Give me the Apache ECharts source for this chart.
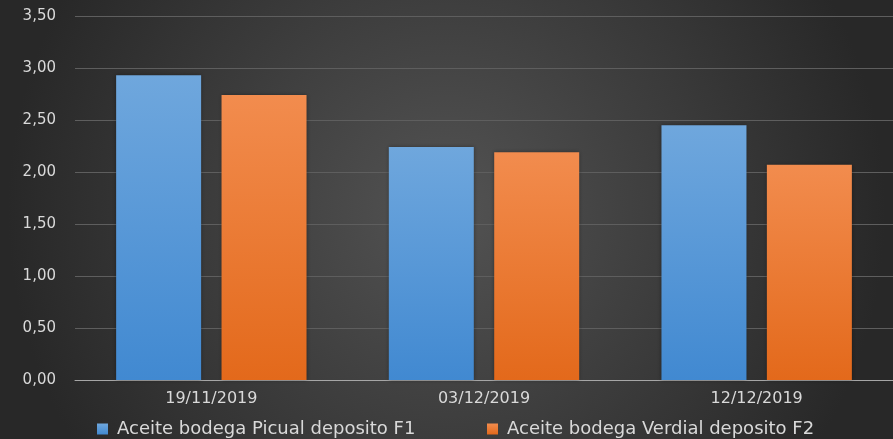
<!DOCTYPE html>
<html>
<head>
<meta charset="utf-8">
<script src="https://cdn.jsdelivr.net/npm/echarts@6/dist/echarts.min.js"></script>
<style>
  html, body { margin: 0; padding: 0; background: #2c2c2c; }
  #chart { width: 893px; height: 439px; }
</style>
</head>
<body>
<div id="chart"></div>
<script>
// Sampling dates
var categories = ['19/11/2019', '03/12/2019', '12/12/2019'];
// Series names and values
var seriesNames = ['Aceite bodega Picual deposito F1', 'Aceite bodega Verdial deposito F2'];
var picualF1 = [2.93, 2.24, 2.45];
var verdialF2 = [2.74, 2.19, 2.07];
// Value axis range
var yMin = 0, yMax = 3.5, yStep = 0.5;

var textColor = '#d9d9d9';
var fontFamily = '"DejaVu Sans", "Noto Sans", sans-serif';

function grad(top, bottom) {
  return new echarts.graphic.LinearGradient(0, 0, 0, 1, [
    { offset: 0, color: top },
    { offset: 1, color: bottom }
  ]);
}

function legendAt(name, left) {
  return {
    data: [name],
    top: 420,
    left: left,
    padding: 0,
    itemWidth: 11,
    itemHeight: 11,
    icon: 'rect',
    textStyle: { color: textColor, fontSize: 18, fontFamily: fontFamily, padding: [0, 0, 0, 4] }
  };
}

var chart = echarts.init(document.getElementById('chart'), null, { renderer: 'canvas' });
chart.setOption({
  backgroundColor: new echarts.graphic.RadialGradient(0.5, 0.48, 1.0, [
    { offset: 0, color: '#535353' },
    { offset: 1, color: '#282828' }
  ]),
  animation: false,
  textStyle: { fontFamily: fontFamily },
  grid: { left: 75, top: 16, width: 825, height: 364, containLabel: false },
  legend: [legendAt(seriesNames[0], 97), legendAt(seriesNames[1], 487)],
  xAxis: {
    type: 'category',
    data: categories,
    axisLine: { lineStyle: { color: '#a6a6a6', width: 1 } },
    axisTick: { show: false },
    axisLabel: { color: textColor, fontSize: 16, margin: 11, fontFamily: fontFamily }
  },
  yAxis: {
    type: 'value',
    min: yMin,
    max: yMax,
    interval: yStep,
    axisLine: { show: false },
    axisTick: { show: false },
    splitLine: { lineStyle: { color: '#5e5e5e', width: 1 } },
    axisLabel: {
      color: textColor,
      fontSize: 15,
      margin: 19,
      fontFamily: fontFamily,
      formatter: function (v) { return v.toFixed(2).replace('.', ','); }
    }
  },
  series: [
    {
      name: seriesNames[0],
      type: 'bar',
      data: picualF1,
      barWidth: 85,
      barGap: '24%',
      itemStyle: {
        color: grad('#6fa7dd', '#4189d1'),
        shadowColor: 'rgba(0,0,0,0.35)',
        shadowBlur: 4
      }
    },
    {
      name: seriesNames[1],
      type: 'bar',
      data: verdialF2,
      barWidth: 85,
      barGap: '24%',
      itemStyle: {
        color: grad('#f28c4e', '#e3691b'),
        shadowColor: 'rgba(0,0,0,0.35)',
        shadowBlur: 4
      }
    }
  ]
});
</script>
</body>
</html>
